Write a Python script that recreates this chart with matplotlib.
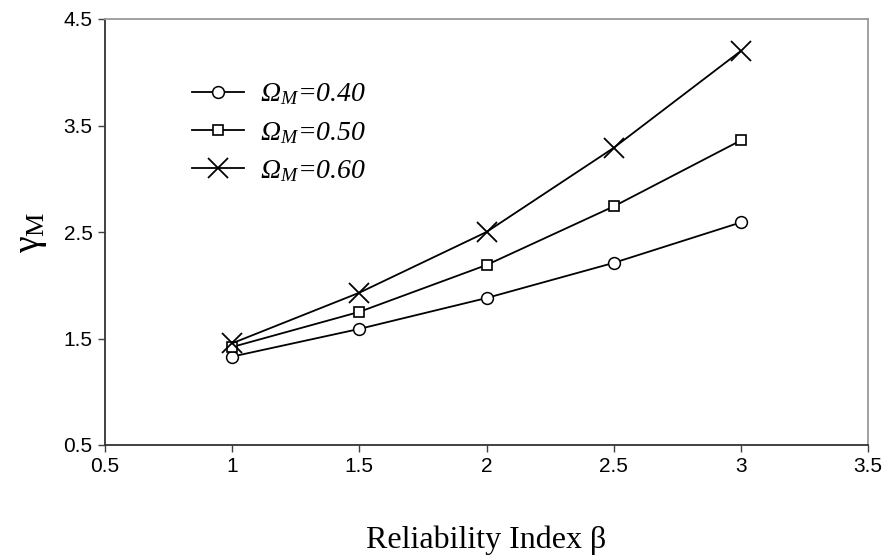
import numpy as np
import matplotlib
matplotlib.use('Agg')
import matplotlib.pyplot as plt

plt.rcParams['mathtext.fontset'] = 'custom'
plt.rcParams['mathtext.rm'] = 'Liberation Serif'
plt.rcParams['mathtext.it'] = 'Liberation Serif:italic'

beta = [1.0, 1.5, 2.0, 2.5, 3.0]
gamma_040 = [1.33, 1.59, 1.88, 2.21, 2.59]
gamma_050 = [1.42, 1.75, 2.19, 2.74, 3.36]
gamma_060 = [1.455, 1.93, 2.50, 3.29, 4.20]
labels = [r'Ω$_{M}$=0.40', r'Ω$_{M}$=0.50', r'Ω$_{M}$=0.60']

x_ticks = [0.5, 1, 1.5, 2, 2.5, 3, 3.5]
x_ticklabels = ['0.5', '1', '1.5', '2', '2.5', '3', '3.5']
y_ticks = [0.5, 1.5, 2.5, 3.5, 4.5]

fig = plt.figure(figsize=(8.9, 5.56), dpi=100)
ax = fig.add_axes([105 / 890, 1 - 445 / 556, (868 - 105) / 890, (445 - 19) / 556])

ax.plot(beta, gamma_040, color='black', lw=1.3, marker='o', ms=8.5,
        mfc='white', mec='black', mew=1.1, label=labels[0])
ax.plot(beta, gamma_050, color='black', lw=1.3, marker='s', ms=7.5,
        mfc='white', mec='black', mew=1.2, label=labels[1])
ax.plot(beta, gamma_060, color='black', lw=1.3, marker='x', ms=14,
        mec='black', mew=1.3, label=labels[2])

ax.set_xlim(0.5, 3.5)
ax.set_ylim(0.5, 4.5)
ax.set_xticks(x_ticks)
ax.set_xticklabels(x_ticklabels)
ax.set_yticks(y_ticks)
ax.tick_params(direction='out', length=5, width=1, color='#404040',
               labelsize=15, pad=4)
for lab in ax.get_xticklabels() + ax.get_yticklabels():
    lab.set_family('Liberation Sans')

for side in ['left', 'bottom']:
    ax.spines[side].set_color('#333333')
    ax.spines[side].set_linewidth(1.3)
for side in ['top', 'right']:
    ax.spines[side].set_color('#999999')
    ax.spines[side].set_linewidth(1.3)

ax.set_xlabel('Reliability Index β', family='Liberation Serif', fontsize=23,
              labelpad=35)
ax.set_ylabel(r'γ$_{\mathrm{M}}$', family='Liberation Serif', fontsize=27,
              labelpad=10)

leg = ax.legend(loc='upper left', bbox_to_anchor=(0.081, 0.912), frameon=False,
                handlelength=1.87, handletextpad=0.6, labelspacing=0.45,
                prop={'family': 'Liberation Serif', 'style': 'italic', 'size': 20})

fig.savefig('out.png', dpi=100)
